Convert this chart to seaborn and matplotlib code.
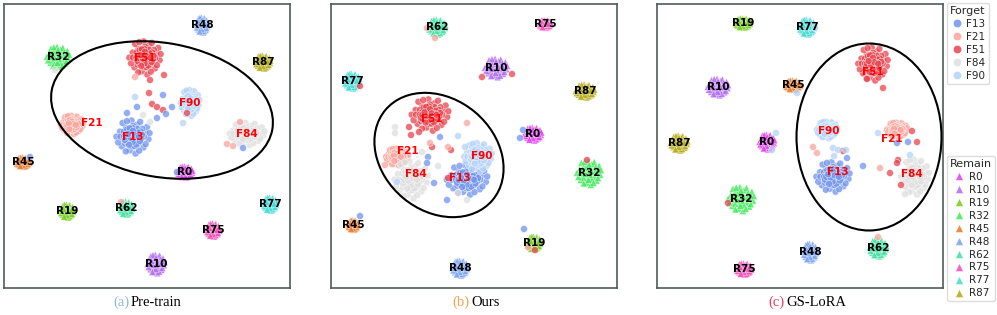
import matplotlib
matplotlib.use("Agg")
import matplotlib.pyplot as plt
from matplotlib.patches import Ellipse
from matplotlib.lines import Line2D
import seaborn as sns
import pandas as pd

# class names and colours
FORGET = ["F13", "F21", "F51", "F84", "F90"]
REMAIN = ["R0", "R10", "R19", "R32", "R45", "R48", "R62", "R75", "R77", "R87"]
CLASSES = FORGET + REMAIN
COLORS = {
    "F13": "#6f93ee", "F21": "#f8a59c", "F51": "#e8444f", "F84": "#dedede", "F90": "#b3d2fa",
    "R0": "#e040ec", "R10": "#b06af0", "R19": "#72cc1c", "R32": "#3fe85a", "R45": "#e8792a",
    "R48": "#7aa2f0", "R62": "#3fe0a0", "R75": "#f24ab8", "R77": "#3fd9d4", "R87": "#b3a90f",
}

# hand-read blob layout (unit disc offsets) used for every cluster
BLOB = [
    (0.00, 0.00), (0.32, 0.08), (-0.28, 0.18), (0.12, 0.38), (-0.10, -0.34),
    (0.42, -0.28), (-0.46, -0.12), (0.22, 0.68), (-0.38, 0.52), (0.66, 0.26),
    (-0.72, 0.30), (0.58, -0.58), (-0.18, -0.74), (0.14, -0.92), (-0.62, -0.52),
    (0.86, -0.12), (-0.92, 0.02), (0.40, 0.84), (-0.08, 0.92), (0.78, 0.56),
    (-0.58, 0.78), (0.22, -0.46), (-0.44, -0.36), (0.52, 0.46), (-0.22, 0.40),
    (0.06, -0.16), (0.34, -0.76), (-0.82, -0.30), (0.92, 0.22), (-0.34, 0.88),
    (0.70, -0.40), (-0.70, 0.02), (0.00, 0.62), (-0.04, -0.52), (0.48, 0.10),
    (-0.26, -0.06), (0.16, 0.18), (-0.50, 0.30), (0.60, 0.02), (-0.40, -0.80),
]

# ---- (a) Pre-train : cluster centre / spread, same order as CLASSES ----
pre_x = [129, 68, 141, 243, 186, 181, 152, 63, 54, 19, 198, 122, 209, 266, 259]
pre_y = [151, 163, 230, 154, 185, 116, 24, 77, 231, 126, 263, 80, 58, 84, 226]
pre_rx = [18, 12, 17, 19, 10, 8, 9, 7, 12, 7, 6, 7, 7, 7, 8]
pre_ry = [18, 10, 18, 12, 14, 6, 10, 7, 11, 5, 8, 7, 7, 7, 7]
pre_stray = [
    ("F51", 146, 208), ("F51", 160, 213), ("F51", 145, 195), ("F51", 148, 184),
    ("F51", 153, 181), ("F51", 159, 178), ("F51", 183, 175), ("F21", 131, 211),
    ("F13", 168, 181), ("F13", 153, 170), ("F13", 162, 174), ("F13", 123, 175),
    ("F13", 133, 181), ("F13", 159, 193), ("F13", 239, 140), ("F13", 26, 131),
    ("F13", 173, 116), ("F90", 179, 165), ("F90", 131, 191), ("F84", 139, 173),
    ("F84", 146, 166), ("F84", 51, 218), ("F21", 223, 144), ("F21", 229, 142),
    ("F21", 236, 166), ("F21", 117, 86),
]
pre_labels = {"F21": (88, 165)}
pre_ellipse = (158, 178, 224, 134, -10)

# ---- (b) Ours ----
ours_x = [136, 66, 99, 80, 147, 202, 165, 203, 258, 22, 129, 106, 214, 21, 254]
ours_y = [108, 131, 173, 108, 131, 154, 220, 45, 115, 63, 20, 261, 264, 207, 197]
ours_rx = [22, 12, 20, 18, 15, 9, 12, 7, 13, 5, 8, 9, 6, 8, 10]
ours_ry = [16, 9, 17, 20, 15, 7, 10, 7, 13, 5, 8, 8, 4, 8, 7]
ours_stray = [
    ("F51", 78, 161), ("F51", 80, 153), ("F51", 88, 156), ("F51", 101, 141),
    ("F51", 120, 138), ("F51", 151, 211), ("F51", 181, 214), ("F51", 256, 128),
    ("F51", 204, 38), ("F51", 29, 202), ("F51", 117, 110), ("F21", 197, 41),
    ("F21", 104, 250), ("F21", 96, 260), ("F21", 136, 165), ("F21", 54, 123),
    ("F21", 99, 145), ("F21", 117, 141), ("F13", 192, 158), ("F13", 189, 150),
    ("F13", 29, 72), ("F13", 193, 59), ("F13", 116, 88), ("F13", 97, 131),
    ("F13", 96, 125), ("F13", 109, 151), ("F13", 103, 105), ("F90", 127, 152),
    ("F90", 134, 141), ("F90", 66, 106), ("F84", 64, 161), ("F84", 64, 155),
    ("F84", 91, 136), ("F84", 136, 88), ("F84", 127, 95), ("F84", 107, 122),
]
ours_labels = {"F51": (101, 169), "F21": (77, 137), "F84": (85, 114),
               "F13": (129, 110), "F90": (151, 132)}
ours_ellipse = (108, 133, 140, 112, -40)

# ---- (c) GS-LoRA ----
gs_x = [176, 240, 216, 258, 170, 110, 61, 86, 84, 136, 153, 221, 87, 150, 22]
gs_y = [111, 158, 224, 111, 158, 146, 201, 265, 89, 203, 36, 40, 19, 261, 145]
gs_rx = [18, 11, 16, 15, 11, 8, 11, 8, 14, 8, 7, 9, 8, 8, 9]
gs_ry = [16, 8, 18, 19, 9, 8, 9, 5, 13, 5, 9, 9, 6, 8, 8]
gs_stray = [
    ("F51", 210, 209), ("F51", 226, 200), ("F51", 255, 157), ("F51", 260, 146),
    ("F51", 241, 128), ("F51", 240, 125), ("F51", 244, 103), ("F51", 186, 137),
    ("F51", 233, 115), ("F51", 71, 85), ("F21", 156, 141), ("F21", 160, 135),
    ("F21", 223, 120), ("F21", 221, 51), ("F13", 251, 146), ("F13", 206, 122),
    ("F13", 190, 130), ("F13", 240, 145), ("F90", 221, 155), ("F90", 119, 155),
    ("F90", 115, 138), ("F90", 158, 260), ("F90", 140, 195), ("F90", 253, 133),
    ("F90", 176, 140), ("F90", 181, 138), ("F90", 189, 138), ("F90", 177, 132),
    ("F84", 248, 94),
]
gs_labels = {"F51": (216, 216), "F90": (172, 157), "F13": (181, 116),
             "F21": (235, 149), "F84": (255, 114)}
gs_ellipse = (212, 151, 145, 187, 0)

CAPTIONS = [("(a)", "Pre-train", "#8ab8f0"), ("(b)", "Ours", "#f5a04e"), ("(c)", "GS-LoRA", "#e8405a")]


def build_points(xs, ys, rxs, rys, strays):
    rows = []
    for cls, cx, cy, rx, ry in zip(CLASSES, xs, ys, rxs, rys):
        layers = [1.0, 0.55] if cls in FORGET else [1.0]
        for k in layers:
            for dx, dy in BLOB:
                rows.append((cls, cx + dx * rx * k, cy + dy * ry * k))
    rows += strays
    df = pd.DataFrame(rows, columns=["cls", "x", "y"])
    df["group"] = ["Forget" if c in FORGET else "Remain" for c in df["cls"]]
    return df


def draw_panel(ax, xs, ys, rxs, rys, strays, labels, ell):
    df = build_points(xs, ys, rxs, rys, strays)
    fg = df[df["group"] == "Forget"]
    rm = df[df["group"] == "Remain"]
    sns.scatterplot(data=rm, x="x", y="y", hue="cls", palette=COLORS, marker="^",
                    s=26, alpha=0.8, edgecolor="white", linewidth=0.3, legend=False, ax=ax)
    sns.scatterplot(data=fg, x="x", y="y", hue="cls", palette=COLORS, marker="o",
                    s=25, alpha=0.75, edgecolor="white", linewidth=0.4, legend=False, ax=ax)
    for cls, cx, cy in zip(CLASSES, xs, ys):
        lx, ly = labels.get(cls, (cx, cy))
        ax.text(lx, ly, cls, ha="center", va="center", fontsize=7.5, fontweight="bold",
                color="red" if cls in FORGET else "black", zorder=5)
    ex, ey, ew, eh, ea = ell
    ax.add_patch(Ellipse((ex, ey), ew, eh, angle=ea, fill=False, lw=1.5,
                         edgecolor="black", zorder=4))
    ax.set_xlim(0, 286)
    ax.set_ylim(0, 284)
    ax.set_xticks([])
    ax.set_yticks([])
    ax.set_xlabel("")
    ax.set_ylabel("")
    for sp in ax.spines.values():
        sp.set_color("#505a5a")
        sp.set_linewidth(1.2)


sns.set_style("white")
plt.rcParams["font.family"] = ["DejaVu Sans"]

fig = plt.figure(figsize=(9.97, 3.15), dpi=100)
lefts = [4, 331, 657]
panels = [
    (pre_x, pre_y, pre_rx, pre_ry, pre_stray, pre_labels, pre_ellipse),
    (ours_x, ours_y, ours_rx, ours_ry, ours_stray, ours_labels, ours_ellipse),
    (gs_x, gs_y, gs_rx, gs_ry, gs_stray, gs_labels, gs_ellipse),
]
split = [129, 469, 784]
for left, p, sx, (tag, name, col) in zip(lefts, panels, split, CAPTIONS):
    ax = fig.add_axes([left / 997, 27 / 315, 286 / 997, 284 / 315])
    draw_panel(ax, *p)
    fig.text(sx / 997, 0.04, tag, ha="right", va="center", color=col,
             fontsize=10.5, family="Liberation Serif")
    fig.text((sx + 2) / 997, 0.04, name, ha="left", va="center", color="black",
             fontsize=10.5, family="Liberation Serif")

# legends
def handles(names, marker):
    return [Line2D([], [], marker=marker, linestyle="", markersize=6,
                   markerfacecolor=COLORS[n], markeredgecolor="white",
                   markeredgewidth=0.4, alpha=0.85) for n in names]

leg_kw = dict(loc="upper left", fontsize=7.5, title_fontsize=8, handletextpad=0.3,
              labelspacing=0.28, borderpad=0.3, handlelength=1.2, borderaxespad=0,
              frameon=True, framealpha=1, edgecolor="#dddddd", fancybox=True)
fig.legend(handles(FORGET, "o"), FORGET, title="Forget",
           bbox_to_anchor=(947 / 997, 1 - 3 / 315), **leg_kw)
fig.legend(handles(REMAIN, "^"), REMAIN, title="Remain",
           bbox_to_anchor=(947 / 997, 1 - 156 / 315), **leg_kw)

fig.savefig("out.png", dpi=100)
